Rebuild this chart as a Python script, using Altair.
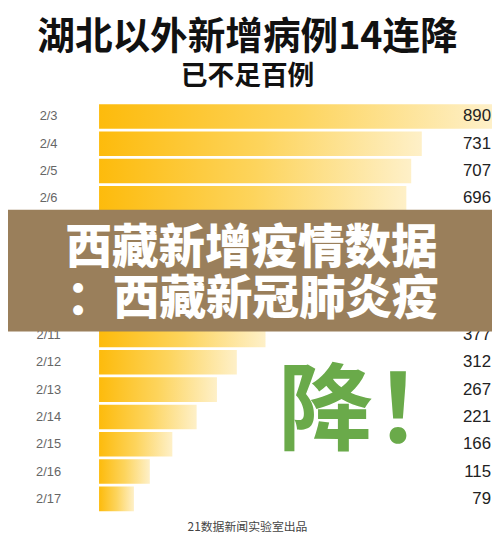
import altair as alt
import pandas as pd

dates = ["2/3", "2/4", "2/5", "2/6", "2/7", "2/8", "2/9", "2/10",
         "2/11", "2/12", "2/13", "2/14", "2/15", "2/16", "2/17"]
cases = [890, 731, 707, 696, 558, 509, 444, 381, 377, 312, 267, 221, 166, 115, 79]

title_text = "湖北以外新增病例14连降"
subtitle_text = "已不足百例"
banner_line1 = "西藏新增疫情数据"
banner_line2 = "：西藏新冠肺炎疫"
big_word = "降"
big_mark = "！"
footer_text = "21数据新闻实验室出品"

df = pd.DataFrame({"date": dates, "cases": cases})
one = pd.DataFrame({"a": [0]})

CJK = "Noto Sans CJK SC"
LAT = "Liberation Sans"

ysc = alt.Scale(domain=dates, paddingInner=0.1, paddingOuter=0.05)
xsc = alt.Scale(domain=[0, 890], nice=False, zero=True)

grad = alt.LinearGradient(
    gradient="linear",
    stops=[alt.GradientStop(color="#FDBB0C", offset=0),
           alt.GradientStop(color="#FDD45C", offset=0.5),
           alt.GradientStop(color="#FEF0C8", offset=1)],
    x1=0, x2=1, y1=0, y2=0)

bars = alt.Chart(df).mark_bar(color=grad, cornerRadius=0).encode(
    x=alt.X("cases:Q", scale=xsc, axis=None),
    y=alt.Y("date:N", scale=ysc, sort=dates, axis=None),
)

date_labels = alt.Chart(df).mark_text(
    font=LAT, fontSize=13, color="#666666", align="center", baseline="middle"
).encode(
    x=alt.value(-51),
    y=alt.Y("date:N", scale=ysc, sort=dates, axis=None),
    text="date:N",
)

value_labels = alt.Chart(df).mark_text(
    font=LAT, fontSize=17, color="#222222", align="right", baseline="middle"
).encode(
    x=alt.value(396),
    y=alt.Y("date:N", scale=ysc, sort=dates, axis=None),
    text="cases:Q",
)

def label(txt, x, y, size, color, weight="bold", font=CJK, align="center"):
    return alt.Chart(one).mark_text(
        text=txt, font=font, fontSize=size, fontWeight=weight, color=color,
        align=align, baseline="middle"
    ).encode(x=alt.value(x), y=alt.value(y))

title = label(title_text, 150, -65, 38, "#111111")
subtitle = label(subtitle_text, 150, -26, 27, "#111111")

banner = alt.Chart(one).mark_rect(color="#9A7F5B").encode(
    x=alt.value(-92), x2=alt.value(397), y=alt.value(108), y2=alt.value(231)
)
b1 = label(banner_line1, 154, 148, 47, "#FFFFFF", weight=900)
b2 = label(banner_line2, 155, 199, 47, "#FFFFFF", weight=900)

big1 = label(big_word, 229, 315, 96, "#6AAA4A", weight="bold")
big2 = label(big_mark, 326, 315, 96, "#6AAA4A", weight="bold")

footer = label(footer_text, 150, 429, 12, "#444444", weight="normal")

chart = alt.layer(
    bars, date_labels, value_labels, title, subtitle,
    banner, b1, b2, big1, big2, footer
).properties(
    width=397, height=414,
    padding={"left": 92, "top": 93, "right": 0, "bottom": 24},
    autosize=alt.AutoSizeParams(type="none"),
    background="#FFFFFF",
).configure_view(stroke=None)

chart.save("out.html", embed_options={"renderer": "svg", "actions": False})
